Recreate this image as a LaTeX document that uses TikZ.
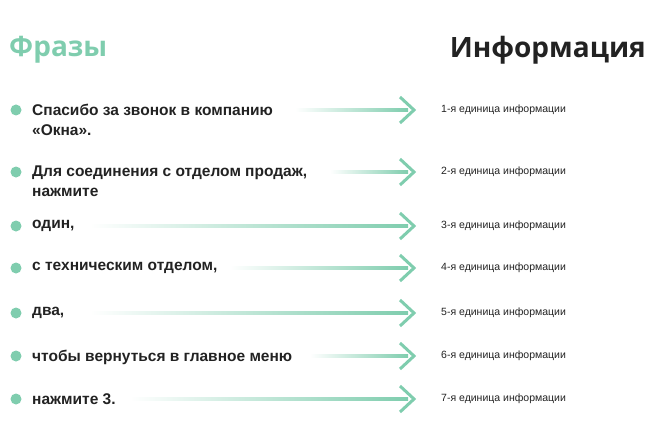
\documentclass[tikz,border=0pt]{standalone}
\usepackage{fontspec}
\setmainfont{Liberation Sans}
\newfontfamily\titlefont{Open Sans}
\usetikzlibrary{positioning}
\definecolor{mint}{HTML}{7FCDAE}
\definecolor{ink}{HTML}{222222}
\begin{document}
\begin{tikzpicture}[x=1pt,y=-1pt,
    bullet/.style={circle, fill=mint, minimum size=11pt, inner sep=0pt},
    phrase/.style={anchor=north west, align=left, font=\fontsize{15.5}{20}\selectfont\bfseries, text=ink, inner sep=0pt},
    info/.style={anchor=west, font=\fontsize{10.5}{12}\selectfont, text=ink, inner sep=0pt},
    head/.style={draw=mint, line width=3pt, line join=miter, line cap=butt}]
    \useasboundingbox (0,0) rectangle (650,433);
    % titles
    \node[anchor=west, font=\titlefont\fontsize{28}{30}\selectfont\bfseries, text=mint, inner sep=0pt] (phr) at (9,50) {Фразы};
    \node[anchor=east, font=\titlefont\fontsize{28}{30}\selectfont\bfseries, text=ink, inner sep=0pt] (inf) at (646,50) {Информация};
    % rows
    \foreach \i/\y/\s/\txt in {
        1/110/295/{Спасибо за звонок в компанию\\«Окна».},
        2/172/330/{Для соединения с отделом продаж,\\нажмите},
        3/226/90/{один,},
        4/268/230/{с техническим отделом,},
        5/313/90/{два,},
        6/356/310/{чтобы вернуться в главное меню},
        7/399/130/{нажмите 3.}} {
        \node[bullet] (b\i) at (16,\y) {};
        \node[phrase] (p\i) at (32,\y-6) {\txt};
        \coordinate (s\i) at (\s,\y);
        \coordinate (e\i) at (414,\y);
        \shade[left color=white, right color=mint] (\s,\y-1.6) rectangle (408,\y+1.6);
        \draw[head] (400,\y-13) -- (e\i) -- (400,\y+13);
        \node[info] (i\i) at (441,\y) {\i-я единица информации};
    }
\end{tikzpicture}
\end{document}
